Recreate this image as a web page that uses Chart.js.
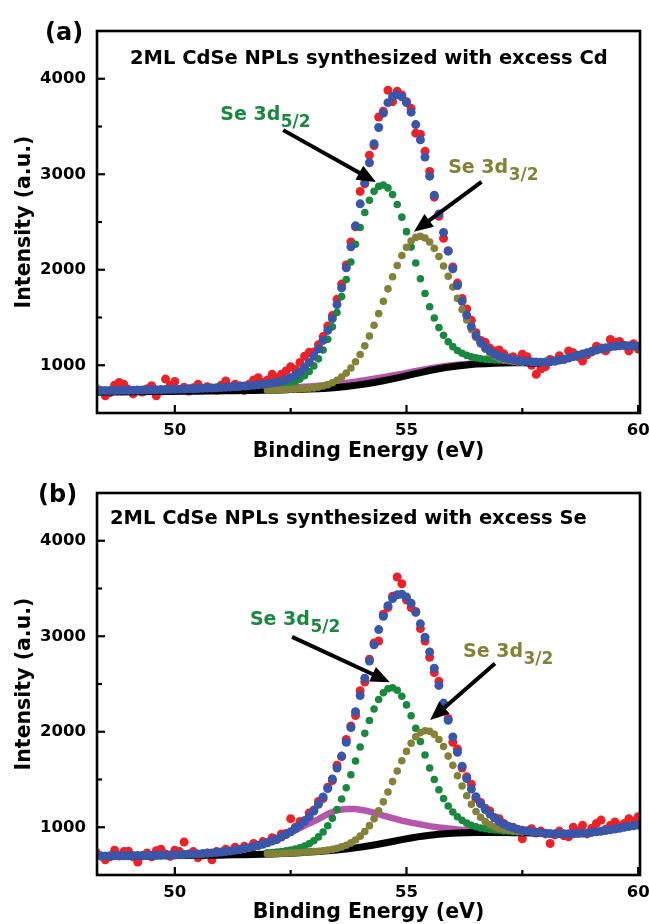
<!DOCTYPE html>
<html><head><meta charset="utf-8">
<script src="https://cdn.jsdelivr.net/npm/chart.js@4.4.1/dist/chart.umd.min.js"></script>
<style>
html,body{margin:0;padding:0;background:#fff;}
#wrap{position:relative;width:649px;height:924px;background:#fff;}
.panel{position:absolute;left:0;width:649px;}
</style></head><body>
<div id="wrap">
<div class="panel" style="top:0;height:470px"><canvas id="cA" width="649" height="470"></canvas></div>
<div class="panel" style="top:470px;height:454px"><canvas id="cB" width="649" height="454"></canvas></div>
</div>
<script>
// ---------- binding energy grids (eV) ----------
const energy = [48.3,48.4,48.5,48.6,48.7,48.8,48.9,49.0,49.1,49.2,49.3,49.4,49.5,49.6,49.7,49.8,49.9,50.0,50.1,50.2,
50.3,50.4,50.5,50.6,50.7,50.8,50.9,51.0,51.1,51.2,51.3,51.4,51.5,51.6,51.7,51.8,51.9,52.0,52.1,52.2,
52.3,52.4,52.5,52.6,52.7,52.8,52.9,53.0,53.1,53.2,53.3,53.4,53.5,53.6,53.7,53.8,53.9,54.0,54.1,54.2,
54.3,54.4,54.5,54.6,54.7,54.8,54.9,55.0,55.1,55.2,55.3,55.4,55.5,55.6,55.7,55.8,55.9,56.0,56.1,56.2,
56.3,56.4,56.5,56.6,56.7,56.8,56.9,57.0,57.1,57.2,57.3,57.4,57.5,57.6,57.7,57.8,57.9,58.0,58.1,58.2,
58.3,58.4,58.5,58.6,58.7,58.8,58.9,59.0,59.1,59.2,59.3,59.4,59.5,59.6,59.7,59.8,59.9,60.0];
const componentEnergy = [52.0,52.1,52.2,52.3,52.4,52.5,52.6,52.7,52.8,52.9,53.0,53.1,53.2,53.3,53.4,53.5,53.6,53.7,53.8,53.9,
54.0,54.1,54.2,54.3,54.4,54.5,54.6,54.7,54.8,54.9,55.0,55.1,55.2,55.3,55.4,55.5,55.6,55.7,55.8,55.9,
56.0,56.1,56.2,56.3,56.4,56.5,56.6,56.7,56.8,56.9,57.0,57.1,57.2,57.3,57.4,57.5];
const backgroundEnergy = [48.3,48.5,48.7,48.9,49.1,49.3,49.5,49.7,49.9,50.1,50.3,50.5,50.7,50.9,51.1,51.3,51.5,51.7,51.9,52.1,
52.3,52.5,52.7,52.9,53.1,53.3,53.5,53.7,53.9,54.1,54.3,54.5,54.7,54.9,55.1,55.3,55.5,55.7,55.9,56.1,
56.3,56.5,56.7,56.9,57.1,57.3,57.5,57.7,57.9];

// ---------- panel (a): excess Cd ----------
const rawA = [760,735,680,715,790,820,800,745,700,735,720,755,785,680,730,855,790,830,740,770,
730,765,800,745,775,760,740,790,835,770,800,785,735,800,845,870,820,845,905,870,
905,940,985,955,1030,1095,1135,1140,1215,1300,1410,1520,1690,1850,2050,2290,2450,2820,2900,3200,
3300,3600,3660,3880,3760,3870,3830,3760,3690,3430,3420,3240,3030,2760,2560,2330,2200,2030,1860,1700,
1590,1470,1340,1260,1240,1180,1150,1160,1120,1075,1090,1060,1115,1090,1000,905,960,985,1060,1045,
1100,1060,1150,1130,1090,1045,1110,1140,1200,1180,1150,1270,1240,1250,1210,1150,1225,1170];
const fitA = [734,735,735,736,736,737,738,738,739,740,741,742,743,744,745,746,747,748,750,751,
753,754,756,758,760,762,764,766,769,772,775,778,782,786,790,795,800,806,813,822,
833,848,868,895,930,975,1030,1095,1170,1260,1365,1490,1635,1810,2020,2240,2460,2690,2910,3120,
3320,3490,3640,3750,3815,3832,3810,3750,3650,3520,3360,3180,2980,2780,2585,2390,2195,2010,1835,1670,
1525,1405,1310,1240,1188,1148,1118,1096,1080,1067,1057,1050,1045,1040,1036,1033,1032,1033,1037,1044,
1053,1064,1076,1090,1104,1118,1132,1146,1159,1171,1182,1192,1199,1203,1205,1204,1202,1200];
const se52A = [761,766,773,782,793,809,829,855,890,935,993,1067,1159,1271,1402,1553,1719,1898,2081,2267,
2442,2599,2727,2821,2873,2888,2857,2787,2684,2551,2399,2237,2070,1906,1752,1613,1495,1394,1313,1246,
1195,1154,1125,1103,1088,1077,1068,1062,1058,1055,1053,1052,1050,1048,1046,1044];
const se32A = [738,739,741,743,745,748,750,752,755,758,763,771,782,797,817,843,876,918,971,1036,
1112,1203,1305,1419,1541,1669,1800,1926,2045,2150,2236,2300,2339,2350,2333,2291,2225,2139,2040,1932,
1819,1700,1585,1475,1375,1290,1222,1168,1127,1096,1074,1058,1047,1040,1035,1031];
const extraA = [720,721,722,724,725,726,727,728,729,730,732,733,735,736,739,741,743,746,749,754,
760,766,771,777,785,794,804,815,828,842,858,874,892,910,929,948,966,981,995,1005,
1013,1020,1022,1025,1027,1028,1028,1026,1023];
const backgroundA = [718,719,720,721,722,723,724,725,726,727,728,729,730,731,733,734,735,736,737,739,
742,745,747,750,754,760,768,777,789,803,820,838,858,879,901,923,945,963,980,993,
1003,1012,1016,1020,1023,1025,1025,1024,1022];

// ---------- panel (b): excess Se ----------
const rawB = [740,700,660,690,760,700,745,750,690,635,700,730,690,755,770,720,695,760,745,845,
720,745,680,710,730,660,745,720,770,740,790,760,800,770,830,810,850,840,890,870,
930,935,1090,1000,1060,1070,1150,1180,1270,1300,1420,1490,1650,1740,1920,2060,2170,2430,2520,2760,
2930,2950,3230,3300,3420,3620,3550,3380,3300,3260,3080,2950,2780,2620,2530,2280,2140,1890,1820,1620,
1530,1450,1300,1260,1200,1170,1100,1090,1040,990,1000,960,880,960,985,940,960,930,830,920,
960,910,900,1000,960,1020,930,990,1040,1075,980,1020,1055,1010,1040,1090,1060,1110];
const fitB = [700,700,700,701,701,701,702,702,703,703,704,705,705,706,707,708,709,710,712,714,
716,718,721,724,727,731,735,740,745,751,758,766,775,785,796,808,822,838,856,876,
898,923,952,985,1022,1063,1110,1170,1240,1318,1405,1505,1620,1745,1890,2045,2210,2380,2560,2740,
2910,3070,3210,3320,3395,3435,3440,3410,3345,3250,3130,2990,2835,2665,2485,2300,2120,1945,1785,1640,
1510,1400,1320,1245,1185,1138,1100,1060,1032,1010,993,979,968,960,953,947,942,938,935,933,
932,931,931,932,934,937,941,946,952,958,965,973,981,990,999,1007,1015,1022];
const se52B = [732,736,740,746,753,761,772,786,803,828,859,899,950,1015,1093,1186,1296,1414,1549,1693,
1840,1983,2118,2239,2337,2409,2450,2460,2434,2372,2281,2167,2037,1898,1757,1621,1500,1392,1300,1223,
1160,1110,1072,1043,1021,1005,992,984,977,972,968,962,960,957,954,951];
const se32B = [720,721,723,725,727,730,732,735,738,741,745,749,753,760,768,779,794,812,836,867,
907,956,1017,1088,1172,1266,1369,1478,1589,1696,1794,1880,1947,1991,2011,2004,1973,1919,1846,1745,
1648,1540,1432,1330,1240,1165,1105,1060,1027,1004,988,976,968,962,957,953];
const extraB = [698,699,701,702,704,705,707,709,711,713,717,722,728,736,747,761,778,800,828,861,
900,944,992,1040,1085,1140,1178,1192,1190,1176,1152,1122,1095,1070,1048,1030,1012,998,986,976,
968,962,958,954,951,948,946,945,944];
const backgroundB = [695,696,697,698,699,700,701,702,703,704,705,706,707,708,709,711,713,715,718,721,
725,729,734,740,746,753,762,772,784,798,814,832,851,870,888,904,917,927,934,939,
942,944,945,945,944,943,942,941,940];

// ---------- ticks ----------
const xMajorTicks = [50, 55, 60];
const xMinorTicks = [52.5, 57.5];
const yMajorTicks = [1000, 2000, 3000, 4000];
const yMinorTicks = [1500, 2500, 3500];

// ---------- text ----------
const titleA = '2ML CdSe NPLs synthesized with excess Cd';
const titleB = '2ML CdSe NPLs synthesized with excess Se';
const xTitle = 'Binding Energy (eV)';
const yTitle = 'Intensity (a.u.)';

const RED = 'rgb(236,34,40)', BLUE = 'rgb(58,86,168)', GREEN = 'rgb(26,136,62)',
      OLIVE = 'rgb(132,130,56)', MAGENTA = 'rgb(182,86,172)', BLACK = '#000';
const FONT = '"DejaVu Sans", "Liberation Sans", sans-serif';

function pairs(xs, ys) { return xs.map((x, i) => ({x: x, y: ys[i]})); }

function datasets(raw, fit, s52, s32, extra, bg) {
  return [
    {data: pairs(energy, fit), backgroundColor: BLUE, borderColor: BLUE, pointRadius: 4.5, borderWidth: 0, order: 0},
    {data: pairs(componentEnergy, s32), backgroundColor: OLIVE, borderColor: OLIVE, pointRadius: 3.8, borderWidth: 0, order: 1},
    {data: pairs(componentEnergy, s52), backgroundColor: GREEN, borderColor: GREEN, pointRadius: 3.8, borderWidth: 0, order: 2},
    {data: pairs(backgroundEnergy, bg), showLine: true, borderColor: BLACK, borderWidth: 7, pointRadius: 0, order: 3},
    {data: pairs(backgroundEnergy, extra), showLine: true, borderColor: MAGENTA, borderWidth: 6.5, pointRadius: 0, order: 4},
    {data: pairs(energy, raw), backgroundColor: RED, borderColor: RED, pointRadius: 4.5, borderWidth: 0, order: 5}
  ];
}

const decor = {
  id: 'decor',
  afterDraw(chart, args, o) {
    const {ctx, chartArea: a, scales: {x, y}} = chart;
    ctx.save();
    ctx.strokeStyle = '#000'; ctx.fillStyle = '#000';
    ctx.lineWidth = 2.2;
    const tick = (px, py, dx, dy) => { ctx.beginPath(); ctx.moveTo(px, py); ctx.lineTo(px + dx, py + dy); ctx.stroke(); };
    xMajorTicks.forEach(v => tick(x.getPixelForValue(v), a.bottom, 0, -8));
    xMinorTicks.forEach(v => tick(x.getPixelForValue(v), a.bottom, 0, -5));
    yMajorTicks.forEach(v => tick(a.left, y.getPixelForValue(v), 8, 0));
    yMinorTicks.forEach(v => tick(a.left, y.getPixelForValue(v), 5, 0));
    ctx.lineWidth = 2.6;
    ctx.strokeRect(a.left, a.top, a.right - a.left, a.bottom - a.top);
    ctx.font = 'bold 24px ' + FONT; ctx.textAlign = 'left'; ctx.textBaseline = 'alphabetic';
    ctx.fillText(o.letter, a.left + o.letterDx, a.top + 9);
    ctx.font = 'bold 19.5px ' + FONT;
    ctx.fillText(o.title, a.left + o.titleDx, a.top + o.titleDy);
    ctx.font = 'bold 20.5px ' + FONT; ctx.textAlign = 'center';
    ctx.fillText(xTitle, (a.left + a.right) / 2, a.bottom + o.xTitleDy);
    ctx.save();
    ctx.translate(25, (a.top + a.bottom) / 2); ctx.rotate(-Math.PI / 2);
    ctx.textBaseline = 'middle'; ctx.fillText(yTitle, 0, 0);
    ctx.restore();
    ctx.textAlign = 'left'; ctx.textBaseline = 'alphabetic';
    o.notes.forEach(n => {
      const px = x.getPixelForValue(n.x), py = y.getPixelForValue(n.y);
      ctx.fillStyle = n.color;
      ctx.font = 'bold 19px ' + FONT;
      ctx.fillText(n.text, px, py);
      const w = ctx.measureText(n.text).width;
      ctx.font = 'bold 17px ' + FONT;
      ctx.fillText(n.sub, px + w + 0.5, py + 7);
    });
    ctx.fillStyle = '#000'; ctx.strokeStyle = '#000'; ctx.lineWidth = 4; ctx.lineCap = 'butt';
    o.arrows.forEach(ar => {
      const x0 = x.getPixelForValue(ar.from[0]), y0 = y.getPixelForValue(ar.from[1]);
      const x1 = x.getPixelForValue(ar.to[0]), y1 = y.getPixelForValue(ar.to[1]);
      const ang = Math.atan2(y1 - y0, x1 - x0), L = 19, H = 8;
      const bx = x1 - L * Math.cos(ang), by = y1 - L * Math.sin(ang);
      ctx.beginPath(); ctx.moveTo(x0, y0); ctx.lineTo(bx + 2 * Math.cos(ang), by + 2 * Math.sin(ang)); ctx.stroke();
      ctx.beginPath(); ctx.moveTo(x1, y1);
      ctx.lineTo(bx + H * Math.sin(ang), by - H * Math.cos(ang));
      ctx.lineTo(bx - H * Math.sin(ang), by + H * Math.cos(ang));
      ctx.closePath(); ctx.fill();
    });
    ctx.restore();
  }
};

function makeChart(id, sets, topPad, bottomSpace, deco) {
  return new Chart(document.getElementById(id), {
    type: 'scatter',
    data: {datasets: sets},
    plugins: [decor],
    options: {
      responsive: false, maintainAspectRatio: false, animation: false, devicePixelRatio: 1,
      layout: {padding: {top: topPad, right: 9, left: 0, bottom: 0}},
      plugins: {legend: {display: false}, tooltip: {enabled: false}, decor: deco},
      scales: {
        x: {
          type: 'linear', min: 48.32, max: 60.04,
          grid: {display: false, drawTicks: false}, border: {display: false},
          afterBuildTicks: s => { s.ticks = xMajorTicks.map(v => ({value: v})); },
          afterFit: s => { s.height = bottomSpace; s.paddingLeft = 0; s.paddingRight = 0; },
          ticks: {padding: 8, maxRotation: 0, color: '#000', callback: v => String(v),
                  font: {family: FONT, size: 16.5, weight: 'bold'}}
        },
        y: {
          type: 'linear', min: 500, max: 4500,
          grid: {display: false, drawTicks: false}, border: {display: false},
          afterBuildTicks: s => { s.ticks = yMajorTicks.map(v => ({value: v})); },
          afterFit: s => { s.width = 97; s.paddingTop = 0; s.paddingBottom = 0; },
          ticks: {padding: 11, color: '#000', callback: v => String(v),
                  font: {family: FONT, size: 16.5, weight: 'bold'}}
        }
      }
    }
  });
}

makeChart('cA', datasets(rawA, fitA, se52A, se32A, extraA, backgroundA), 31, 57, {
  letter: '(a)', letterDx: -52, title: titleA, titleDx: 33, titleDy: 33, xTitleDy: 44,
  notes: [
    {text: 'Se 3d', sub: '5/2', color: GREEN, x: 50.98, y: 3566},
    {text: 'Se 3d', sub: '3/2', color: OLIVE, x: 55.9, y: 3012}
  ],
  arrows: [
    {from: [52.34, 3462], to: [54.34, 2918]},
    {from: [56.62, 2921], to: [55.16, 2399]}
  ]
});
makeChart('cB', datasets(rawB, fitB, se52B, se32B, extraB, backgroundB), 23, 49, {
  letter: '(b)', letterDx: -59, title: titleB, titleDx: 13, titleDy: 31, xTitleDy: 43,
  notes: [
    {text: 'Se 3d', sub: '5/2', color: GREEN, x: 51.62, y: 3116},
    {text: 'Se 3d', sub: '3/2', color: OLIVE, x: 56.22, y: 2781}
  ],
  arrows: [
    {from: [52.53, 2993], to: [54.64, 2519]},
    {from: [56.91, 2715], to: [55.51, 2122]}
  ]
});
</script>
</body></html>
